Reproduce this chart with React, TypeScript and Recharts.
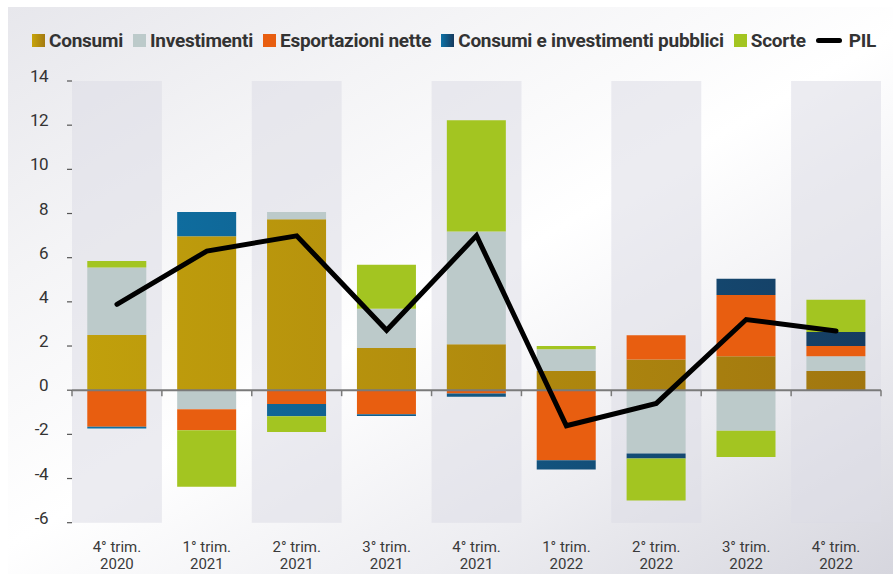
import React from 'react';
import {
  ComposedChart,
  Bar,
  Line,
  XAxis,
  YAxis,
  ReferenceArea,
  ReferenceLine,
} from 'recharts';

const quarters = ['4° trim.', '1° trim.', '2° trim.', '3° trim.', '4° trim.', '1° trim.', '2° trim.', '3° trim.', '4° trim.'];
const years = ['2020', '2021', '2021', '2021', '2021', '2022', '2022', '2022', '2022'];

const consumi = [2.5, 6.97, 7.74, 1.91, 2.08, 0.87, 1.39, 1.54, 0.87];
const investimenti = [3.05, -0.86, 0.33, 1.78, 5.11, 0.98, -2.87, -1.84, 0.67];
const esportazioni = [-1.66, -0.95, -0.62, -1.09, -0.15, -3.17, 1.1, 2.77, 0.46];
const pubblici = [-0.08, 1.1, -0.56, -0.08, -0.15, -0.42, -0.22, 0.74, 0.64];
const scorte = [0.3, -2.56, -0.71, 1.99, 5.03, 0.15, -1.91, -1.18, 1.45];
const pil = [3.89, 6.3, 6.99, 2.71, 7.0, -1.61, -0.6, 3.2, 2.68];

const yTicks = [-6, -4, -2, 0, 2, 4, 6, 8, 10, 12, 14];

const categories = quarters.map((q, i) => `${q} ${years[i]}`);

const data = categories.map((cat, i) => ({
  cat,
  consumi: consumi[i],
  investimenti: investimenti[i],
  esportazioni: esportazioni[i],
  pubblici: pubblici[i],
  scorte: scorte[i],
  pil: pil[i],
}));

const FONT = 'Roboto, "Liberation Sans", sans-serif';

const LEGEND = [
  { name: 'Consumi', fill: 'linear-gradient(90deg, #c7a40a, #a47a12)' },
  { name: 'Investimenti', fill: '#bccaca' },
  { name: 'Esportazioni nette', fill: '#e85e10' },
  { name: 'Consumi e investimenti pubblici', fill: 'linear-gradient(90deg, #0e72a6, #163a5e)' },
  { name: 'Scorte', fill: '#a3c521' },
];

const XTick = (props: any) => {
  const { x, y, payload, index } = props;
  return (
    <g>
      <text x={x} y={y + 21} textAnchor="middle" fontSize={15} fill="#3a3a3a" fontFamily={FONT}>
        {quarters[index] ?? payload.value}
      </text>
      <text x={x} y={y + 38} textAnchor="middle" fontSize={15} fill="#3a3a3a" fontFamily={FONT}>
        {years[index]}
      </text>
    </g>
  );
};

const YTick = (props: any) => {
  const { x, y, payload } = props;
  return (
    <text x={x} y={y + 1} textAnchor="end" fontSize={17} fill="#333" fontFamily={FONT} letterSpacing={-0.5}>
      {payload.value}
    </text>
  );
};

// zero line with small ticks at each category boundary
const ZeroLine = (props: any) => {
  const { x1, y1, x2 } = props;
  const n = categories.length;
  const step = (x2 - x1) / n;
  return (
    <g>
      <line x1={x1} y1={y1} x2={x2} y2={y1} stroke="#7a7a7a" strokeWidth={2} />
      {Array.from({ length: n + 1 }).map((_, i) => (
        <line key={i} x1={x1 + i * step} y1={y1} x2={x1 + i * step} y2={y1 + 6} stroke="#7a7a7a" strokeWidth={1.5} />
      ))}
    </g>
  );
};

export default function App() {
  return (
    <div
      style={{
        position: 'absolute',
        left: 8,
        top: 7,
        width: 885,
        height: 567,
        background:
          'linear-gradient(150deg, #e7e7ec 0%, #f4f4f6 25%, #ffffff 50%, #ededf1 75%, #d6d6de 100%)',
        fontFamily: FONT,
      }}
    >
      <div
        style={{
          position: 'absolute',
          left: 24,
          top: 22,
          display: 'flex',
          alignItems: 'center',
          whiteSpace: 'nowrap',
          fontWeight: 700,
          fontSize: 19,
          letterSpacing: -0.25,
          color: '#333',
        }}
      >
        {LEGEND.map((l) => (
          <div key={l.name} style={{ display: 'flex', alignItems: 'center', marginRight: 10 }}>
            <span style={{ width: 13, height: 13, background: l.fill, marginRight: 4, display: 'inline-block' }} />
            <span>{l.name}</span>
          </div>
        ))}
        <div style={{ display: 'flex', alignItems: 'center' }}>
          <span style={{ width: 26, height: 5, background: '#000', borderRadius: 3, marginRight: 7, display: 'inline-block' }} />
          <span>PIL</span>
        </div>
      </div>
      <ComposedChart
        width={885}
        height={567}
        data={data}
        stackOffset="sign"
        barCategoryGap="17%"
        margin={{ top: 74, right: 12, left: 0, bottom: 6 }}
      >
        <defs>
          <linearGradient id="gConsumi" gradientUnits="userSpaceOnUse" x1="0%" y1="0" x2="100%" y2="0">
            <stop offset="0%" stopColor="#c4a40b" />
            <stop offset="100%" stopColor="#a07510" />
          </linearGradient>
          <linearGradient id="gPubblici" gradientUnits="userSpaceOnUse" x1="0%" y1="0" x2="100%" y2="0">
            <stop offset="0%" stopColor="#0d78ad" />
            <stop offset="100%" stopColor="#163a5e" />
          </linearGradient>
        </defs>
        {categories.map((c, i) =>
          i % 2 === 0 ? (
            <ReferenceArea key={c} x1={c} x2={c} fill="#dcdce6" fillOpacity={0.55} stroke="none" ifOverflow="visible" />
          ) : null
        )}
        <XAxis
          dataKey="cat"
          height={45.3}
          axisLine={false}
          tickLine={false}
          interval={0}
          tick={<XTick />}
        />
        <YAxis
          width={64}
          domain={[-6, 14]}
          ticks={yTicks}
          allowDataOverflow
          axisLine={false}
          tickSize={5}
          tickMargin={19}
          tickLine={{ stroke: '#555', strokeWidth: 1.2 }}
          tick={<YTick />}
        />
        <Bar dataKey="consumi" stackId="a" fill="url(#gConsumi)" isAnimationActive={false} />
        <Bar dataKey="investimenti" stackId="a" fill="#bccaca" isAnimationActive={false} />
        <Bar dataKey="esportazioni" stackId="a" fill="#e85e10" isAnimationActive={false} />
        <Bar dataKey="pubblici" stackId="a" fill="url(#gPubblici)" isAnimationActive={false} />
        <Bar dataKey="scorte" stackId="a" fill="#a3c521" isAnimationActive={false} />
        <ReferenceLine y={0} shape={<ZeroLine />} />
        <Line
          dataKey="pil"
          stroke="#000"
          strokeWidth={5}
          strokeLinecap="round"
          strokeLinejoin="miter"
          dot={false}
          activeDot={false}
          isAnimationActive={false}
        />
      </ComposedChart>
    </div>
  );
}
